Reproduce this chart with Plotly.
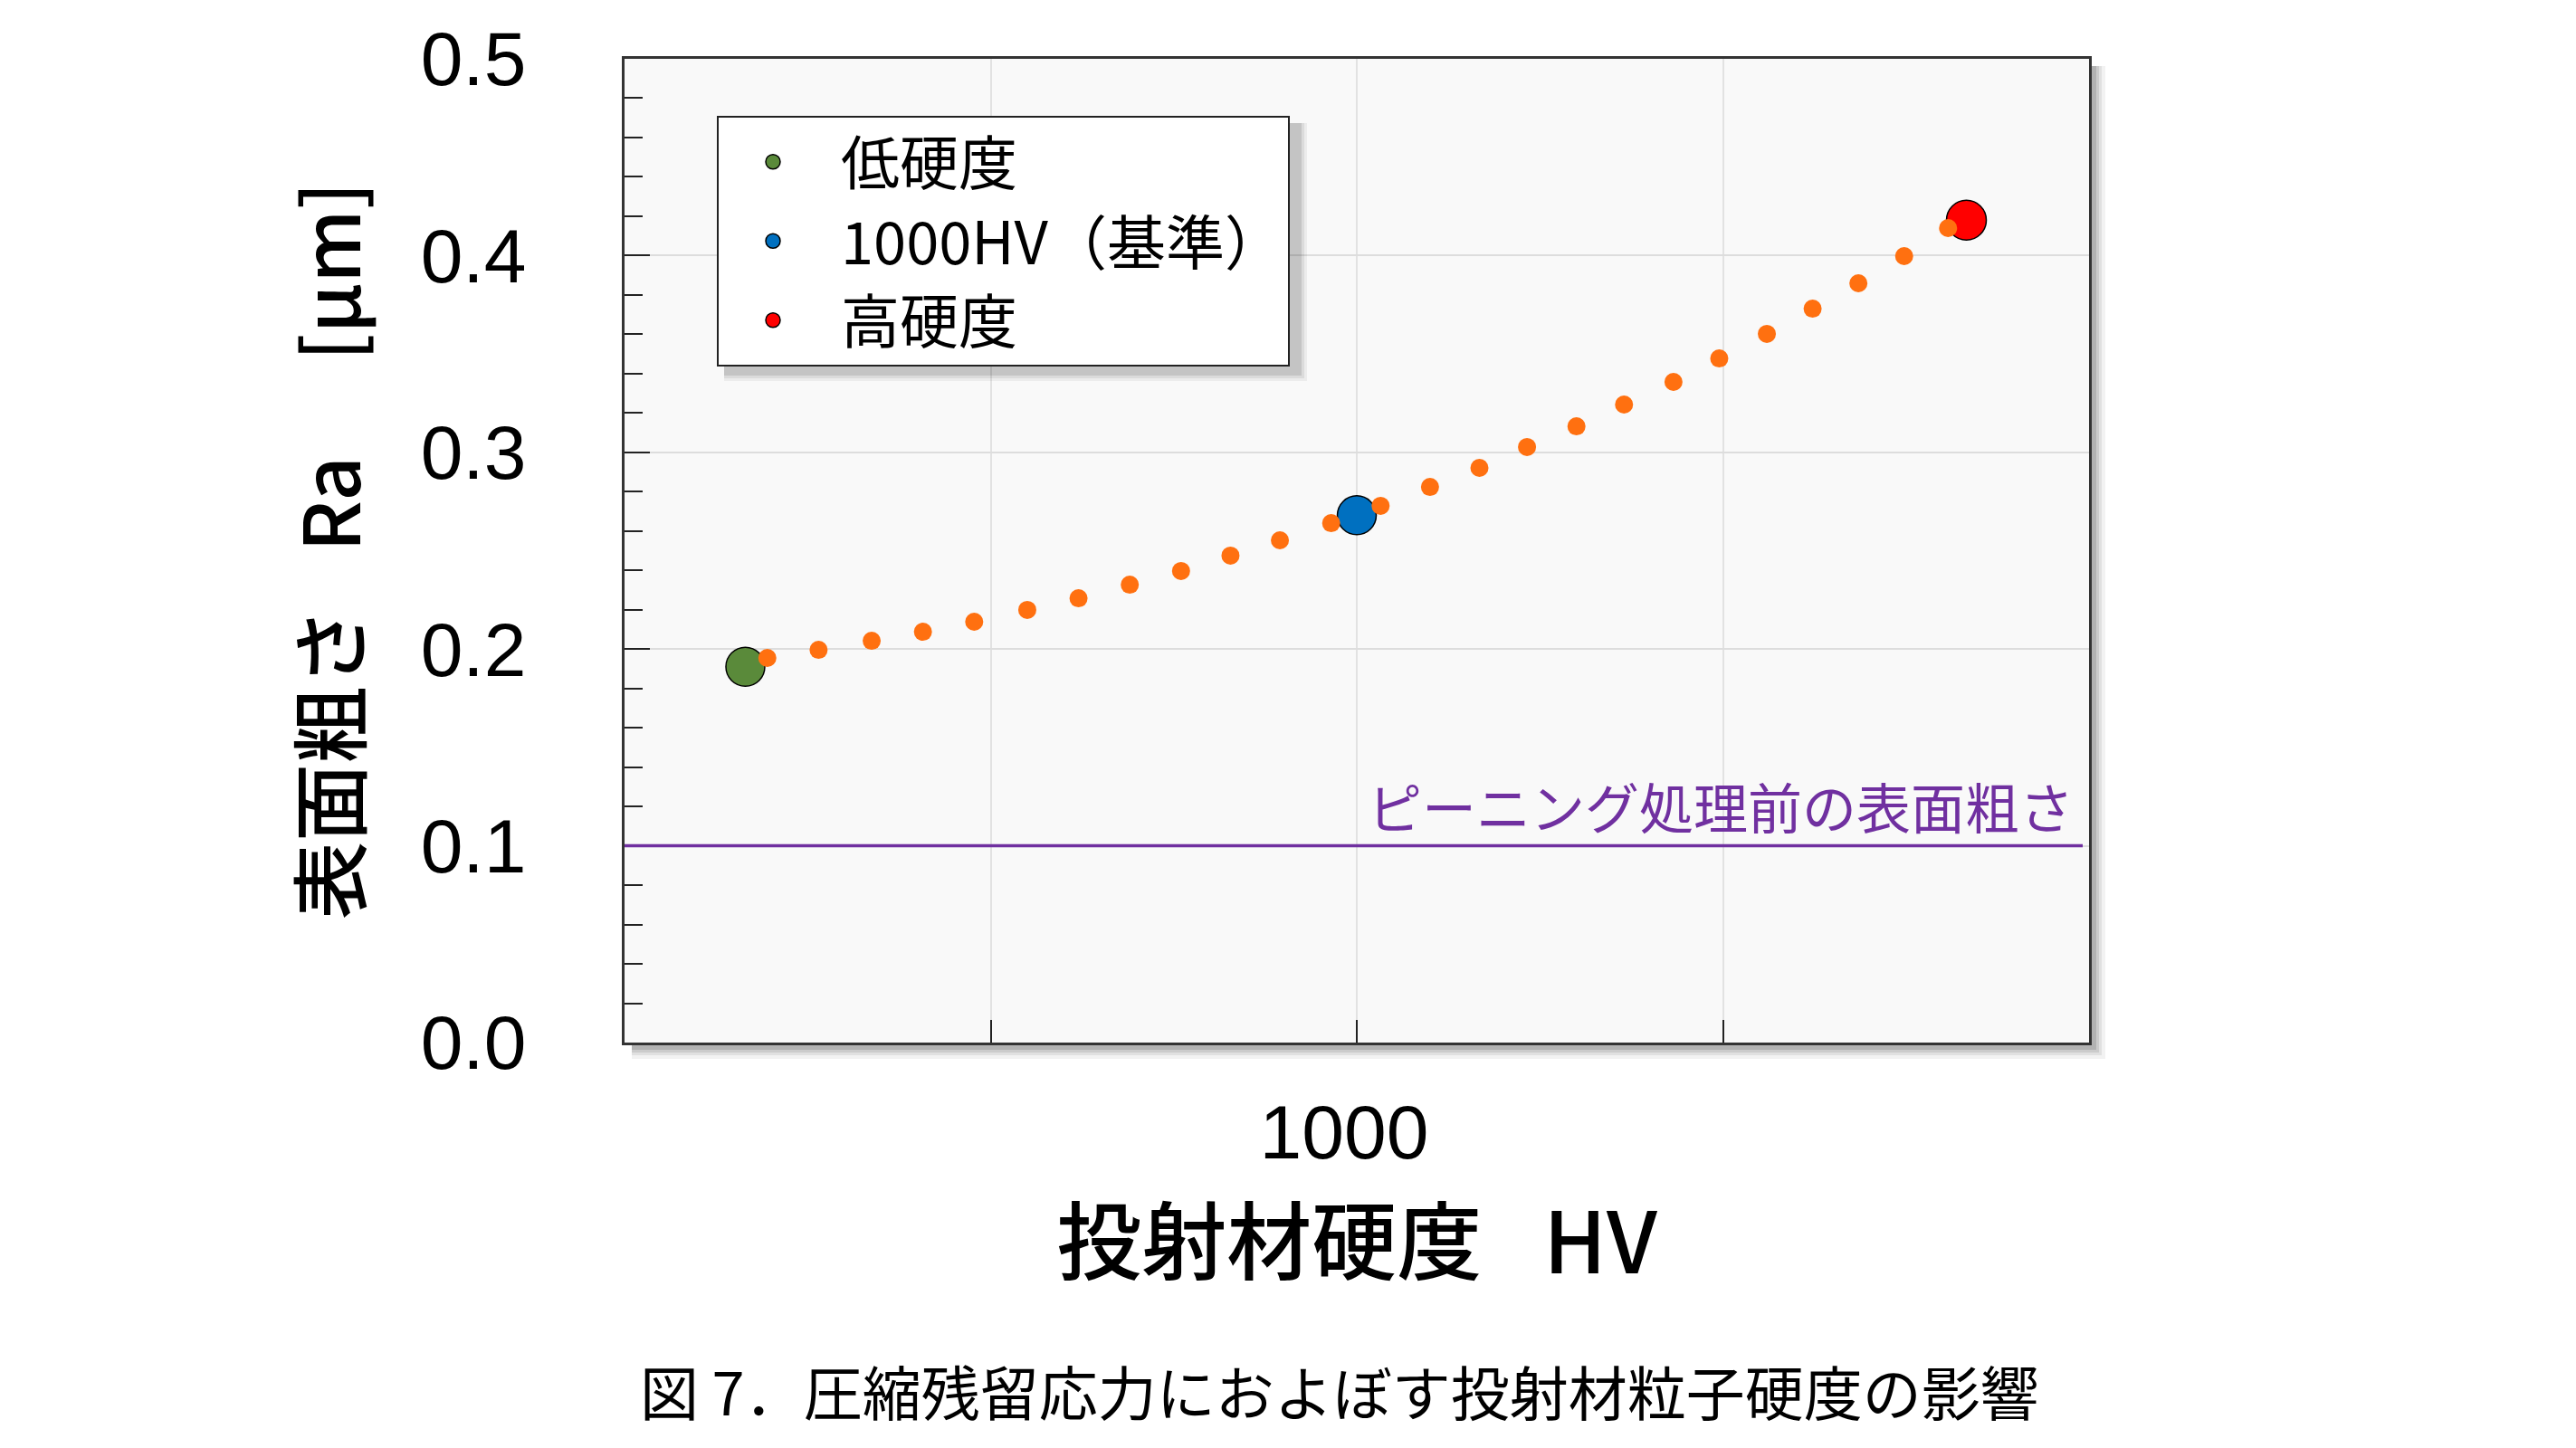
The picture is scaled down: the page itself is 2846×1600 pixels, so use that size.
import plotly.graph_objects as go

# ---- data ----
low_x, low_y = [666], [0.191]
base_x, base_y = [1000], [0.268]
high_x, high_y = [1333], [0.418]

trend_x = [678, 706, 735, 763, 791, 820, 848, 876, 904, 931, 958, 986, 1013,
           1040, 1067, 1093, 1120, 1146, 1173, 1198, 1224, 1249, 1274, 1299, 1323]
trend_y = [0.1955, 0.1996, 0.2042, 0.2088, 0.2139, 0.2199, 0.2258, 0.2327, 0.2397,
           0.2475, 0.2553, 0.2640, 0.2728, 0.2824, 0.2921, 0.3027, 0.3132, 0.3243,
           0.3358, 0.3477, 0.3602, 0.3730, 0.3859, 0.3997, 0.4140]

baseline_ra = 0.1
baseline_label = "ピーニング処理前の表面粗さ"

legend_names = ["低硬度", "1000HV（基準）", "高硬度"]
x_tickvals = [800, 1000, 1200]
x_ticktext = ["", "1000", ""]
x_range = [600, 1400]
y_range = [0, 0.5]

x_title = "投射材硬度\u2002 HV"
y_title = "表面粗さ\u2002 Ra\u3000 [μm]"
caption = "図 7．圧縮残留応力におよぼす投射材粒子硬度の影響"

W, H = 2846, 1600
OFF = 8  # page offset of the figure (body margin)
L, R, T, B = 690, 2308, 65, 1152   # plot area in page pixels

JP = "Noto Sans CJK JP"
NUM = "Liberation Sans"

def px(xp):
    return (xp - L) / (R - L)

def py(yp):
    return (B - yp) / (B - T)

fig = go.Figure()
fig.add_trace(go.Scatter(x=low_x, y=low_y, mode="markers", name=legend_names[0],
                         marker=dict(size=43, color="#5A8A3A", line=dict(color="#000", width=1.5))))
fig.add_trace(go.Scatter(x=base_x, y=base_y, mode="markers", name=legend_names[1],
                         marker=dict(size=43, color="#0070C0", line=dict(color="#000", width=1.5))))
fig.add_trace(go.Scatter(x=high_x, y=high_y, mode="markers", name=legend_names[2],
                         marker=dict(size=44, color="#FF0000", line=dict(color="#000", width=1.5))))
fig.add_trace(go.Scatter(x=trend_x, y=trend_y, mode="markers", showlegend=False,
                         marker=dict(size=20, color="#FF7010", line=dict(width=0))))

shapes = []
# plot-area shadow (drawn first), then the plot background on top of it
for k, op in [(18, 0.05), (14, 0.07), (11, 0.09), (8, 0.12)]:
    shapes.append(dict(type="rect", xref="paper", yref="paper", layer="below",
                       x0=px(L + 8), x1=px(R + k), y0=py(B + k), y1=py(T + 8),
                       fillcolor=f"rgba(0,0,0,{op})", line=dict(width=0)))
shapes.append(dict(type="rect", xref="paper", yref="paper", layer="below",
                   x0=0, x1=1, y0=0, y1=1, fillcolor="#F9F9F9", line=dict(width=0)))
# legend shadow
LG_L, LG_T, LG_R, LG_B = 792, 128, 1429, 406
for k, op in [(15, 0.05), (12, 0.07), (9, 0.10)]:
    shapes.append(dict(type="rect", xref="paper", yref="paper", layer="above",
                       x0=px(LG_L + 8), x1=px(LG_R + k), y0=py(LG_B + k), y1=py(LG_T + 8),
                       fillcolor=f"rgba(0,0,0,{op})", line=dict(width=0)))
# baseline (before peening)
shapes.append(dict(type="line", xref="paper", yref="y", x0=0, x1=px(2301),
                   y0=baseline_ra, y1=baseline_ra, line=dict(color="#7030A0", width=3.5)))

annotations = [
    dict(text=baseline_label, xref="paper", yref="y", x=px(2293), y=baseline_ra,
         xanchor="right", yanchor="bottom", yshift=0, showarrow=False,
         font=dict(family=JP, size=60, color="#7030A0")),
    dict(text=caption, xref="paper", yref="paper", x=px(1480), y=py(1536),
         xanchor="center", yanchor="middle", showarrow=False,
         font=dict(family=JP, size=65, color="#000")),
]

fig.update_layout(
    width=W, height=H,
    margin=dict(l=L - OFF, r=W - R + OFF, t=T - OFF, b=H - B + OFF, pad=0),
    paper_bgcolor="#FFFFFF",
    plot_bgcolor="rgba(0,0,0,0)",
    shapes=shapes,
    annotations=annotations,
    showlegend=True,
    legend=dict(x=px(LG_L), y=py(LG_T), xanchor="left", yanchor="top",
                bgcolor="#FFFFFF", bordercolor="#222222", borderwidth=2,
                font=dict(family=JP, size=65, color="#000"),
                itemwidth=140, indentation=-15),
)

fig.update_xaxes(
    range=x_range, tickvals=x_tickvals, ticktext=x_ticktext,
    showgrid=True, gridcolor="#E2E2E2", gridwidth=1.5,
    ticks="inside", ticklen=25, tickwidth=1.5, tickcolor="#222",
    showline=True, linecolor="#333", linewidth=2.5, mirror=True,
    tickfont=dict(family=NUM, size=84, color="#000"),
    ticklabelstandoff=24, ticklabelshift=-14,
    title=dict(text=x_title, font=dict(family=JP, size=94, color="#000", weight=500), standoff=43),
    zeroline=False, automargin=False,
)
fig.update_yaxes(
    range=y_range, dtick=0.1, tickformat=".1f",
    showgrid=True, gridcolor="#DDDDDD", gridwidth=1.5,
    ticks="inside", ticklen=28, tickwidth=1.5, tickcolor="#222",
    minor=dict(dtick=0.02, ticks="inside", ticklen=20, tickwidth=1.5, tickcolor="#222", showgrid=False),
    showline=True, linecolor="#333", linewidth=2.5, mirror=True,
    tickfont=dict(family=NUM, size=84, color="#000"),
    ticklabelstandoff=89,
    title=dict(text=y_title, font=dict(family=JP, size=86, color="#000", weight=500), standoff=38),
    zeroline=False, automargin=False,
)

fig.write_html("out.html")
